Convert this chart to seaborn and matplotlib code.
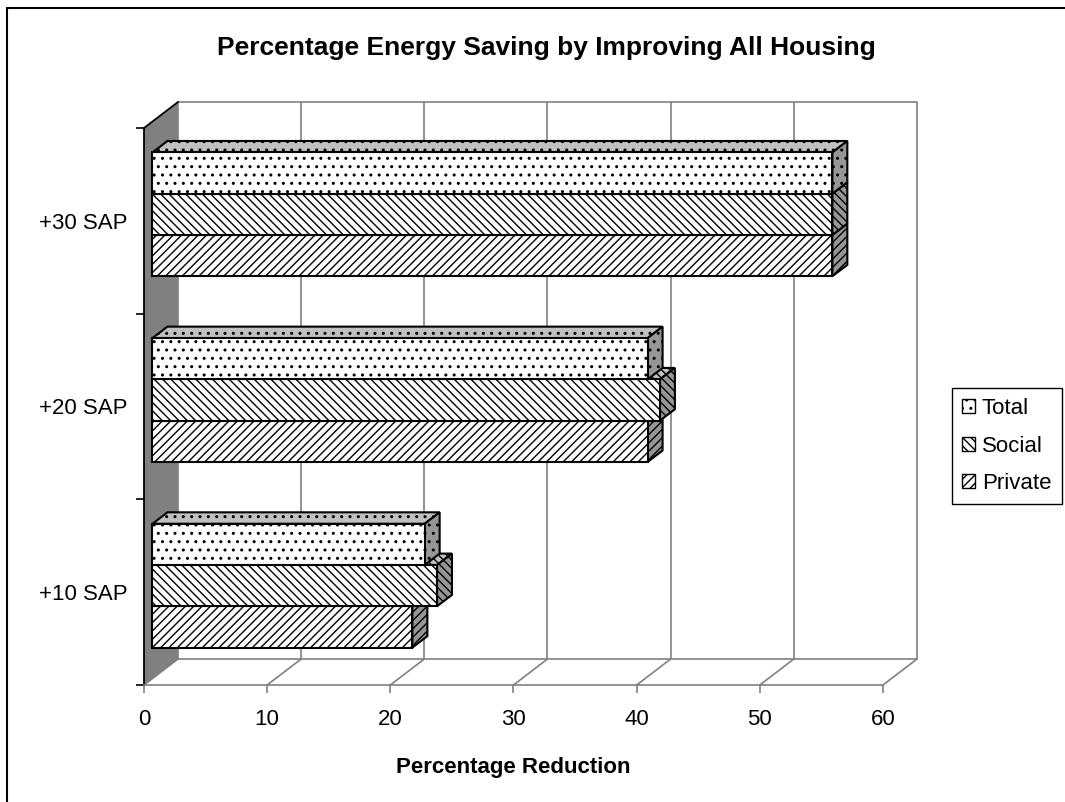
import numpy as np
import pandas as pd
import seaborn as sns
import matplotlib.pyplot as plt
from matplotlib import transforms
from matplotlib.patches import Polygon, Patch, Rectangle
from matplotlib.lines import Line2D

# ---- data -------------------------------------------------------------
levels = ['+30 SAP', '+20 SAP', '+10 SAP']
series = ['Total', 'Social', 'Private']
total = [55.2, 40.2, 22.1]
social = [55.2, 41.2, 23.1]
private = [55.2, 40.2, 21.1]
x_ticks = [0, 10, 20, 30, 40, 50, 60]

title = 'Percentage Energy Saving by Improving All Housing'
x_label = 'Percentage Reduction'

df = pd.DataFrame({
    'level': levels * 3,
    'series': [s for s in series for _ in levels],
    'value': total + social + private,
})

# ---- style ------------------------------------------------------------
sns.set_theme(style='white')
plt.rcParams['font.family'] = ['Liberation Sans', 'DejaVu Sans']
plt.rcParams['hatch.linewidth'] = 1.0
plt.rcParams['text.color'] = 'black'
plt.rcParams['xtick.labelcolor'] = 'black'
plt.rcParams['ytick.labelcolor'] = 'black'

hatches = {'Total': '..', 'Social': '\\\\\\\\', 'Private': '////'}
top_color = '#c0c0c0'
side_color = '#969696'
wall_color = '#808080'
grid_color = '#808080'

W_PX, H_PX = 1065, 802
fig = plt.figure(figsize=(W_PX / 100, H_PX / 100), dpi=100)
# front plane of the 3-D box
left, right, top, bottom = 144, 883, 128, 685
ax = fig.add_axes([left / W_PX, 1 - bottom / H_PX,
                   (right - left) / W_PX, (bottom - top) / H_PX])

sns.barplot(data=df, x='value', y='level', hue='series', order=levels,
            hue_order=series, orient='h', width=0.667, ax=ax, legend=False,
            palette=['white'] * 3, saturation=1, edgecolor='black',
            linewidth=1.5)
bars = [p for p in ax.patches if isinstance(p, Rectangle)]

xmin, xmax = x_ticks[0], x_ticks[-1]
ylo, yhi = len(levels) - 0.5, -0.5
ax.set_xlim(xmin, xmax)
ax.set_ylim(ylo, yhi)
ax.patch.set_visible(False)

# depth vector of the box (display pixels) and bar depth range
D = np.array([34.0, 26.0])
d0, d1 = 0.25, 0.69
ident = transforms.IdentityTransform()


def shifted(depth):
    return ax.transData + transforms.Affine2D().translate(*(depth * D))


T = ax.transData.transform

# back wall grid lines and edges
ax.vlines(x_ticks, ylo, yhi, colors=grid_color, lw=1.2,
          transform=shifted(1.0), zorder=0.5, clip_on=False)
ax.plot([xmin, xmax], [yhi, yhi], color=grid_color, lw=1.2,
        transform=shifted(1.0), zorder=0.5, clip_on=False)
ax.plot([xmin, xmax], [ylo, ylo], color=grid_color, lw=1.2,
        transform=shifted(1.0), zorder=0.5, clip_on=False)

# floor lines running into depth
for v in x_ticks:
    p = T((v, ylo))
    ax.add_artist(Line2D([p[0], p[0] + D[0]], [p[1], p[1] + D[1]],
                         color=grid_color, lw=1.2, transform=ident,
                         zorder=0.6, clip_on=False))

# left side wall
a, b = T((xmin, yhi)), T((xmin, ylo))
ax.add_artist(Polygon([a, a + D, b + D, b], closed=True, transform=ident,
                      facecolor=wall_color, edgecolor='none', zorder=1,
                      clip_on=False))
ax.add_artist(Line2D([a[0], a[0] + D[0]], [a[1], a[1] + D[1]], color='black',
                     lw=1.3, transform=ident, zorder=1.1, clip_on=False))

# bars: front face from seaborn, plus top and side faces
bw = 0.667 / len(series)
for bar in bars:
    x0, y0 = bar.get_x(), bar.get_y()
    w, h = bar.get_width(), bar.get_height()
    yc = y0 + h / 2
    k = int(round((yc - round(yc)) / bw)) + 1
    name = series[k]
    z = 5 + (len(series) - 1 - k) * 0.1
    bar.set_transform(shifted(d0))
    bar.set_hatch(hatches[name])
    bar.set_zorder(z + 0.05)
    bar.set_clip_on(False)

    corners = T([(x0, y0), (x0 + w, y0), (x0 + w, y0 + h), (x0, y0 + h)]) + d0 * D
    xl, xr = corners[:, 0].min(), corners[:, 0].max()
    yb, yt = corners[:, 1].min(), corners[:, 1].max()
    dd = (d1 - d0) * D
    top_face = [(xl, yt), (xr, yt), (xr + dd[0], yt + dd[1]), (xl + dd[0], yt + dd[1])]
    side_face = [(xr, yb), (xr, yt), (xr + dd[0], yt + dd[1]), (xr + dd[0], yb + dd[1])]
    for pts, fc in ((top_face, top_color), (side_face, side_color)):
        ax.add_artist(Polygon(pts, closed=True, transform=ident, facecolor=fc,
                              edgecolor='black', lw=1.5, hatch=hatches[name],
                              zorder=z, clip_on=False))

# axes, ticks and labels
for s in ('top', 'right'):
    ax.spines[s].set_visible(False)
ax.spines['left'].set_color('black')
ax.spines['left'].set_linewidth(1.3)
ax.spines['bottom'].set_color(grid_color)
ax.spines['bottom'].set_linewidth(1.2)

ax.set_xticks(x_ticks)
ax.set_xticklabels([str(v) for v in x_ticks])
ax.set_yticks(range(len(levels)))
ax.set_yticklabels(levels)
ax.set_yticks([i - 0.5 for i in range(len(levels) + 1)], minor=True)
ax.tick_params(axis='x', which='major', length=6, width=1.2, color=grid_color,
               labelsize=16, pad=11, bottom=True, labelcolor='black')
ax.tick_params(axis='y', which='major', length=0, labelsize=16, pad=12,
               labelcolor='black')
ax.tick_params(axis='y', which='minor', length=5.5, width=1.2, color='black',
               left=True)
ax.set_xlabel('')
ax.set_ylabel('')
ax.grid(False)

fig.text(546 / W_PX, 1 - 48 / H_PX, title, ha='center', va='center',
         fontsize=19, fontweight='bold', color='black')
fig.text(513 / W_PX, 1 - 767 / H_PX, x_label, ha='center', va='center',
         fontsize=16, fontweight='bold', color='black')

handles = [Patch(facecolor='white', edgecolor='black', lw=1.0,
                 hatch=hatches[s]) for s in series]
leg = fig.legend(handles, series, loc='center left',
                 bbox_to_anchor=(952 / W_PX, 1 - 446 / H_PX), fontsize=16,
                 frameon=True, fancybox=False, framealpha=1, edgecolor='black',
                 handlelength=0.6, handleheight=0.6, handletextpad=0.3,
                 labelspacing=0.75, borderpad=0.45, borderaxespad=0)
leg.get_frame().set_linewidth(1.0)
for t in leg.get_texts():
    t.set_color('black')

# outer chart border
fig.add_artist(Line2D([7 / W_PX, 7 / W_PX], [0, 1 - 8 / H_PX], color='black',
                      lw=1.5, transform=fig.transFigure))
fig.add_artist(Line2D([7 / W_PX, 1], [1 - 8 / H_PX, 1 - 8 / H_PX],
                      color='black', lw=1.5, transform=fig.transFigure))

ax.set_xlim(xmin, xmax)
ax.set_ylim(ylo, yhi)
fig.savefig('out.png', dpi=100)
